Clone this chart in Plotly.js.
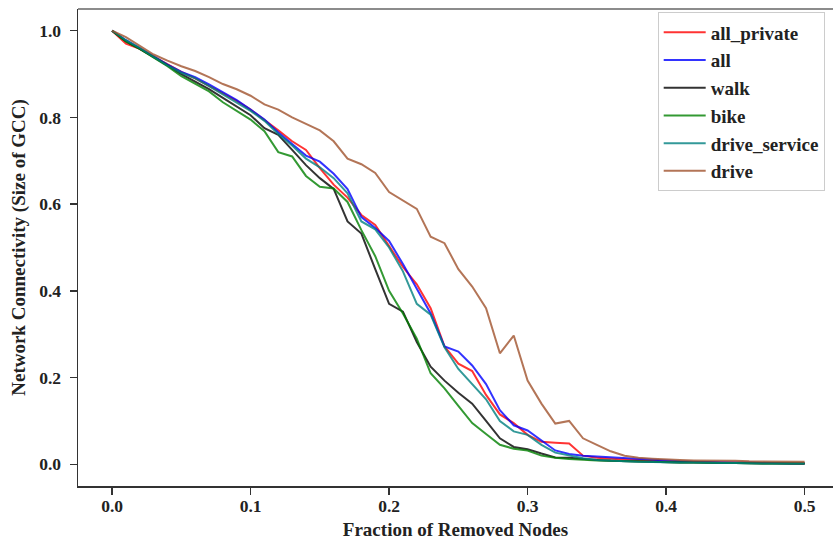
<!DOCTYPE html>
<html>
<head>
<meta charset="utf-8">
<script src="https://cdn.plot.ly/plotly-3.0.1.min.js"></script>
<style>html,body{margin:0;padding:0;background:#fff;}#chart{width:833px;height:541px;}</style>
</head>
<body>
<div id="chart"></div>
<script>
// Fraction of removed nodes
const fraction = [0.00,0.01,0.02,0.03,0.04,0.05,0.06,0.07,0.08,0.09,
  0.10,0.11,0.12,0.13,0.14,0.15,0.16,0.17,0.18,0.19,
  0.20,0.21,0.22,0.23,0.24,0.25,0.26,0.27,0.28,0.29,
  0.30,0.31,0.32,0.33,0.34,0.35,0.36,0.37,0.38,0.39,
  0.40,0.41,0.42,0.43,0.44,0.45,0.46,0.47,0.48,0.49,0.50];

const allPrivate = [1.000,0.970,0.958,0.940,0.922,0.905,0.890,0.873,0.855,0.838,
  0.818,0.795,0.770,0.745,0.725,0.683,0.645,0.615,0.575,0.552,
  0.505,0.455,0.415,0.360,0.272,0.232,0.215,0.160,0.115,0.095,
  0.068,0.052,0.050,0.048,0.020,0.015,0.013,0.011,0.010,0.008,
  0.007,0.006,0.005,0.005,0.004,0.004,0.003,0.003,0.003,0.002,0.002];

const allNet = [1.000,0.978,0.960,0.940,0.922,0.905,0.893,0.876,0.858,0.840,
  0.818,0.795,0.765,0.738,0.712,0.698,0.670,0.635,0.570,0.545,
  0.515,0.462,0.405,0.348,0.272,0.260,0.228,0.185,0.125,0.090,
  0.078,0.055,0.032,0.024,0.020,0.018,0.016,0.014,0.012,0.010,
  0.008,0.007,0.006,0.005,0.005,0.004,0.004,0.003,0.003,0.002,0.002];

const walk = [1.000,0.975,0.958,0.940,0.920,0.900,0.882,0.865,0.845,0.825,
  0.805,0.775,0.760,0.725,0.690,0.660,0.635,0.560,0.532,0.450,
  0.370,0.352,0.282,0.225,0.193,0.165,0.140,0.100,0.060,0.040,
  0.035,0.025,0.016,0.015,0.012,0.010,0.008,0.007,0.006,0.005,
  0.005,0.004,0.004,0.003,0.003,0.003,0.002,0.002,0.002,0.002,0.002];

const bike = [1.000,0.975,0.958,0.938,0.918,0.895,0.878,0.860,0.835,0.815,
  0.795,0.768,0.720,0.710,0.665,0.640,0.636,0.605,0.540,0.480,
  0.400,0.348,0.290,0.210,0.175,0.135,0.095,0.070,0.045,0.036,
  0.032,0.020,0.015,0.012,0.010,0.009,0.008,0.007,0.006,0.005,
  0.005,0.004,0.004,0.003,0.003,0.003,0.002,0.002,0.002,0.002,0.002];

const driveService = [1.000,0.978,0.960,0.940,0.920,0.903,0.890,0.872,0.853,0.835,
  0.815,0.792,0.762,0.735,0.705,0.685,0.660,0.625,0.560,0.542,
  0.500,0.445,0.370,0.345,0.270,0.220,0.185,0.150,0.100,0.076,
  0.068,0.045,0.027,0.020,0.014,0.010,0.008,0.007,0.006,0.005,
  0.005,0.004,0.004,0.003,0.003,0.003,0.002,0.002,0.002,0.002,0.002];

const drive = [1.000,0.985,0.965,0.945,0.931,0.918,0.907,0.893,0.877,0.865,
  0.850,0.830,0.818,0.800,0.785,0.770,0.745,0.705,0.692,0.672,
  0.628,0.608,0.589,0.525,0.510,0.450,0.410,0.360,0.256,0.297,
  0.193,0.140,0.094,0.100,0.060,0.045,0.030,0.020,0.015,0.013,
  0.011,0.010,0.009,0.009,0.008,0.008,0.007,0.007,0.007,0.006,0.006];

const seriesNames = ['all_private','all','walk','bike','drive_service','drive'];
const seriesValues = [allPrivate, allNet, walk, bike, driveService, drive];
const seriesColors = ['#ff0000','#0000ff','#000000','#008000','#008080','#a0522d'];

const xTicks = [0.0,0.1,0.2,0.3,0.4,0.5];
const xTickText = ['0.0','0.1','0.2','0.3','0.4','0.5'];
const yTicks = [0.0,0.2,0.4,0.6,0.8,1.0];
const yTickText = ['0.0','0.2','0.4','0.6','0.8','1.0'];

const FONT = 'Liberation Serif, Times New Roman, serif';

const traces = seriesNames.map((n, i) => ({
  type: 'scatter', mode: 'lines', name: n,
  x: fraction, y: seriesValues[i],
  line: {color: seriesColors[i], width: 2},
  opacity: 0.8
}));

const layout = {
  width: 833, height: 541,
  margin: {l: 78, r: 0, t: 9, b: 55, pad: 0},
  paper_bgcolor: '#fff', plot_bgcolor: '#fff',
  showlegend: true,
  font: {family: FONT, color: '#222', size: 17, weight: 'bold'},
  xaxis: {
    range: [-0.0246, 0.5205], tickvals: xTicks, ticktext: xTickText,
    showgrid: false, zeroline: false, showline: true, linecolor: '#333', linewidth: 1.5,
    ticks: 'outside', ticklen: 7, tickwidth: 1.3, tickcolor: '#333',
    ticklabelstandoff: -4,
    tickfont: {family: FONT, size: 17.5, color: '#222', weight: 'bold'},
    title: {text: 'Fraction of Removed Nodes', font: {family: FONT, size: 19, color: '#222', weight: 'bold'}, standoff: 8}
  },
  yaxis: {
    range: [-0.05, 1.05], tickvals: yTicks, ticktext: yTickText,
    showgrid: false, zeroline: false, showline: true, linecolor: '#333', linewidth: 1.5,
    ticks: 'outside', ticklen: 7, tickwidth: 1.3, tickcolor: '#333',
    ticklabelstandoff: 5,
    tickfont: {family: FONT, size: 17.5, color: '#222', weight: 'bold'},
    title: {text: 'Network Connectivity (Size of GCC)', font: {family: FONT, size: 19, color: '#222', weight: 'bold'}, standoff: 8}
  },
  shapes: [{type: 'line', xref: 'paper', yref: 'paper', x0: 0, x1: 1, y0: 1, y1: 1,
            line: {color: '#666', width: 1.5}}],
  legend: {
    x: 0.989, y: 0.9927, xanchor: 'right', yanchor: 'top',
    bgcolor: 'rgba(255,255,255,0.8)', bordercolor: '#ccc', borderwidth: 1,
    font: {family: FONT, size: 19, color: '#222', weight: 'bold'},
    itemwidth: 42,
    tracegroupgap: 0
  }
};

Plotly.newPlot('chart', traces, layout, {staticPlot: true, displayModeBar: false});
</script>
</body>
</html>
